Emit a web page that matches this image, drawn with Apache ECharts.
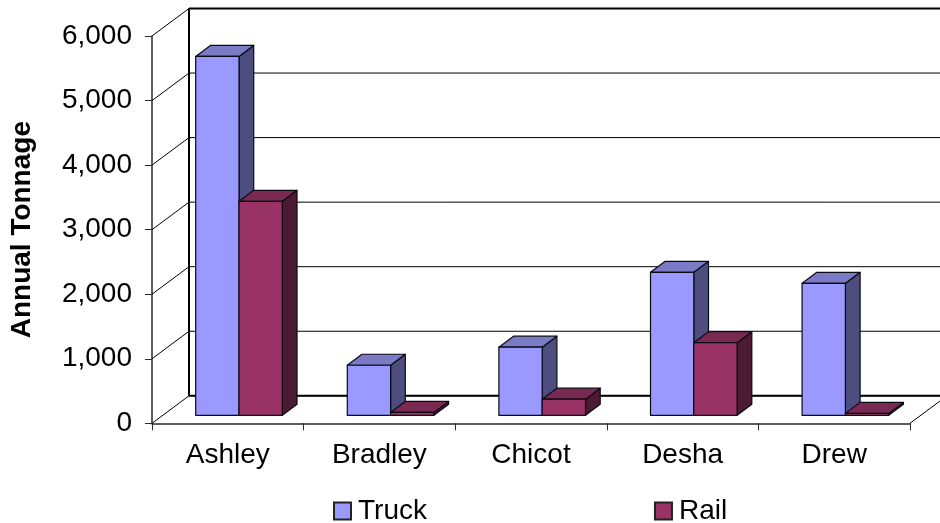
<!DOCTYPE html>
<html>
<head>
<meta charset="utf-8">
<style>html,body{margin:0;padding:0;background:#fff}#chart{width:940px;height:523px}</style>
<script src="https://cdn.jsdelivr.net/npm/echarts@6/dist/echarts.min.js"></script>
</head>
<body>
<div id="chart"></div>
<script>
const counties = ['Ashley', 'Bradley', 'Chicot', 'Desha', 'Drew'];
const truckTons = [5560, 775, 1055, 2215, 2045];
const railTons = [3315, 45, 250, 1125, 30];
const tonnageTicks = [0, 1000, 2000, 3000, 4000, 5000, 6000];

const FONT = '"Liberation Sans", Arial, sans-serif';
// Oblique projection of the box: full floor depth, bar depth, and where bars sit on the floor
const WALL = { dx: 37, dy: -27.5 };
const BAR_DEPTH = { dx: 14.7, dy: -11 };
const BAR_INSET = { dx: 11.2, dy: -8 };
const BAR_SHARE = 0.2857;

// Back wall lines and the floor diagonals, one polyline per value tick
function renderWallLine(params, api) {
  const v = api.value(0);
  const left = api.coord([0, v]);
  const cat = api.size([1, 0])[0];
  const x0 = left[0] - cat / 2;
  const y = left[1];
  const x1 = x0 + cat * counties.length;
  const isEdge = v === 0 || v === 6000;
  const children = [{
    type: 'polyline',
    shape: { points: [[x0, y], [x0 + WALL.dx, y + WALL.dy], [x1 + WALL.dx, y + WALL.dy]] },
    style: { fill: null, stroke: '#000', lineWidth: 1 },
    silent: true
  }];
  if (isEdge) {
    children.push({
      type: 'line',
      shape: { x1: x0 + WALL.dx, y1: y + WALL.dy, x2: x1 + WALL.dx, y2: y + WALL.dy },
      style: { stroke: '#000', lineWidth: 2 }, silent: true
    });
  }
  if (v === 0) {
    children.push({
      type: 'line',
      shape: { x1: x1, y1: y, x2: x1 + WALL.dx, y2: y + WALL.dy },
      style: { stroke: '#000', lineWidth: 1 }, silent: true
    });
    const top = api.coord([0, 6000])[1];
    children.push({
      type: 'line',
      shape: { x1: x0 + WALL.dx, y1: y + WALL.dy, x2: x0 + WALL.dx, y2: top + WALL.dy },
      style: { stroke: '#000', lineWidth: 2 }, silent: true
    });
  }
  return { type: 'group', children };
}

// Builds a three-faced bar; side is -1 for the left bar of a pair and 0 for the right one
function barRenderer(side, front, topFace, sideFace) {
  return function (params, api) {
    const i = api.value(0);
    const head = api.coord([i, api.value(1)]);
    const foot = api.coord([i, 0]);
    const w = api.size([1, 0])[0] * BAR_SHARE;
    const x0 = head[0] + side * w + BAR_INSET.dx;
    const x1 = x0 + w;
    const yT = head[1] + BAR_INSET.dy;
    const yB = foot[1] + BAR_INSET.dy;
    const dx = BAR_DEPTH.dx, dy = BAR_DEPTH.dy;
    const edge = { stroke: '#0a0a14', lineWidth: 1.2, lineJoin: 'round' };
    return {
      type: 'group',
      children: [
        { type: 'polygon', shape: { points: [[x1, yT], [x1 + dx, yT + dy], [x1 + dx, yB + dy], [x1, yB]] },
          style: Object.assign({ fill: sideFace }, edge) },
        { type: 'polygon', shape: { points: [[x0, yT], [x0 + dx, yT + dy], [x1 + dx, yT + dy], [x1, yT]] },
          style: Object.assign({ fill: topFace }, edge) },
        { type: 'rect', shape: { x: x0, y: yT, width: w, height: yB - yT },
          style: Object.assign({ fill: front }, edge) }
      ]
    };
  };
}

const chart = echarts.init(document.getElementById('chart'), null, { renderer: 'canvas' });
chart.setOption({
  animation: false,
  backgroundColor: '#fff',
  grid: { left: 152, right: 30, top: 36, bottom: 99.7, containLabel: false, outerBoundsMode: 'none' },
  legend: {
    left: 333, top: 497, itemWidth: 17, itemHeight: 17, itemGap: 227, padding: 0,
    icon: 'rect',
    textStyle: { fontFamily: FONT, fontSize: 28, color: '#000', padding: [0, 0, 3, 2] },
    data: ['Truck', 'Rail']
  },
  xAxis: {
    type: 'category', data: counties,
    axisLine: { show: true, lineStyle: { color: '#2a2a2a', width: 1.5 } },
    axisTick: { show: true, length: 7, alignWithLabel: false, lineStyle: { color: '#2a2a2a', width: 1 } },
    axisLabel: { fontFamily: FONT, fontSize: 28, color: '#000', margin: 18 },
    splitLine: { show: false }
  },
  yAxis: {
    type: 'value', min: 0, max: 6000, interval: 1000,
    name: 'Annual Tonnage', nameLocation: 'middle', nameRotate: 90, nameGap: 116,
    nameTextStyle: { fontFamily: FONT, fontSize: 28, fontWeight: 'bold', color: '#000' },
    axisLine: { show: true, lineStyle: { color: '#2a2a2a', width: 1.5 } },
    axisTick: { show: true, length: 7, lineStyle: { color: '#2a2a2a', width: 1 } },
    axisLabel: { fontFamily: FONT, fontSize: 28, color: '#000', margin: 20, padding: [2, 0, 0, 0],
      formatter: v => v.toLocaleString('en-US') },
    splitLine: { show: false }
  },
  series: [
    { type: 'custom', name: 'wall', z: 1, silent: true, clip: false, legendHoverLink: false,
      renderItem: renderWallLine, encode: { y: 0 },
      data: tonnageTicks.map(v => [v]) },
    { type: 'custom', name: 'Truck', z: 3, clip: false,
      itemStyle: { color: '#9999ff', borderColor: '#222', borderWidth: 1 },
      renderItem: barRenderer(-1, '#9999ff', '#7a7ac5', '#4d4d80'),
      encode: { x: 0, y: 1 },
      data: truckTons.map((v, i) => [i, v]) },
    { type: 'custom', name: 'Rail', z: 4, clip: false,
      itemStyle: { color: '#993366', borderColor: '#222', borderWidth: 1 },
      renderItem: barRenderer(0, '#993366', '#7a2952', '#4d1a33'),
      encode: { x: 0, y: 1 },
      data: railTons.map((v, i) => [i, v]) }
  ]
});
</script>
</body>
</html>
